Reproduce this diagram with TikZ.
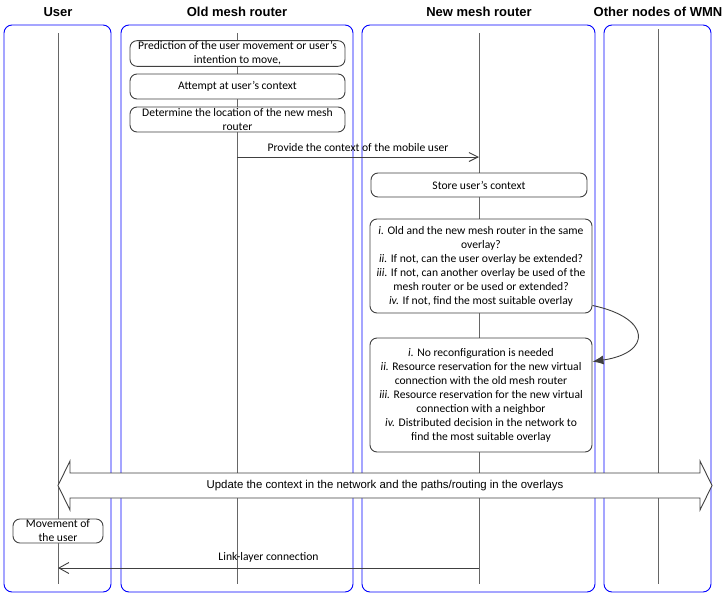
\documentclass[tikz,border=0pt]{standalone}
\usepackage{fontspec}
\setmainfont{Carlito}
\newfontfamily\arialfont{Liberation Sans}
\usetikzlibrary{calc,arrows.meta}

\tikzset{
  lane/.style={draw=blue,rounded corners=8pt,line width=0.9pt},
  lifeline/.style={draw=black!60,line width=1pt},
  stepbox/.style={draw=black!75,rounded corners=7pt,fill=white,align=center,
    inner sep=1pt,line width=0.9pt,font=\fontsize{11.6}{14}\selectfont},
  msg/.style={draw=black!75,line width=0.9pt},
  msglabel/.style={font=\fontsize{11.6}{14}\selectfont,inner sep=2pt},
}

\begin{document}
\begin{tikzpicture}[x=1pt,y=-1pt]
  \useasboundingbox (0,0) rectangle (724,595);

  %% Lanes, titles and lifelines
  \foreach \n/\xa/\xb/\xl/\ytop/\title in {U/4/111/58/33/User,
    O/121/353/237/33/Old mesh router, N/362/595/479/33/New mesh router,
    W/604/711/658/29/Other nodes of WMN}
  {
    \draw[lane] (\xa,25) rectangle (\xb,592);
    \node[font=\arialfont\bfseries\fontsize{13}{15}\selectfont] (T\n) at (\xl,12) {\title};
    \coordinate (top\n) at (\xl,\ytop);
    \coordinate (bot\n) at (\xl,584);
    \draw[lifeline] (top\n) -- (bot\n);
  }

  %% Steps in the old mesh router
  \node[stepbox,minimum width=215pt,minimum height=25pt] (predict) at (237.5,53.5)
    {Prediction of the user movement or user’s\\intention to move,};
  \node[stepbox,minimum width=215pt,minimum height=25pt] (attempt) at (237.5,86.5)
    {Attempt at user’s context};
  \node[stepbox,minimum width=215pt,minimum height=25pt] (locate) at (237.5,119.5)
    {Determine the location of the new mesh\\router};

  %% Context handed to the new mesh router
  \coordinate (ctxO) at (237,157);
  \coordinate (ctxN) at (479,157);
  \draw[msg,-{Straight Barb[length=9pt,width=9pt]}] (ctxO) --
    node[msglabel,above=3pt] (provide) {Provide the context of the mobile user} (ctxN);

  %% Steps in the new mesh router
  \node[stepbox,minimum width=216pt,minimum height=24pt] (store) at (479,185)
    {Store user’s context};
  \node[stepbox,minimum width=222pt,minimum height=94pt] (checks) at (481,266)
    {\textit{i.} Old and the new mesh router in the same\\overlay?\\
     \textit{ii.} If not, can the user overlay be extended?\\
     \textit{iii.} If not, can another overlay be used of the\\
     mesh router or be used or extended?\\
     \textit{iv.} If not, find the most suitable overlay};
  \node[stepbox,minimum width=222pt,minimum height=114pt] (actions) at (481,395)
    {\textit{i.} No reconfiguration is needed\\
     \textit{ii.} Resource reservation for the new virtual\\
     connection with the old mesh router\\
     \textit{iii.} Resource reservation for the new virtual\\
     connection with a neighbor\\
     \textit{iv.} Distributed decision in the network to\\
     find the most suitable overlay};
  \draw[msg,-{Latex[length=11pt,width=9pt]}] ([yshift=8pt]checks.south east)
    .. controls (652,318) and (652,353) .. ([yshift=-24pt]actions.north east);

  %% Update across the whole network
  \coordinate (updL) at (58,485.5);
  \coordinate (updR) at (712,485.5);
  \draw[msg,fill=white] (updL) -- ++(12,-24.5) -- ++(0,12) -- (700,473) -- ++(0,-12)
    -- (updR) -- ++(-12,24.5) -- ++(0,-12) -- (70,498) -- ++(0,12) -- cycle;
  \node[font=\arialfont\fontsize{11.4}{13}\selectfont] (update) at (385,485.5)
    {Update the context in the network and the paths/routing in the overlays};

  %% User side
  \node[stepbox,minimum width=90pt,minimum height=24pt] (move) at (58,531)
    {Movement of\\the user};
  \coordinate (linkN) at (479,568);
  \coordinate (linkU) at (58,568);
  \draw[msg,-{Straight Barb[length=10pt,width=11pt]}] (linkN) --
    node[msglabel,above=3pt] (link) {Link-layer connection} (linkU);

\end{tikzpicture}
\end{document}
